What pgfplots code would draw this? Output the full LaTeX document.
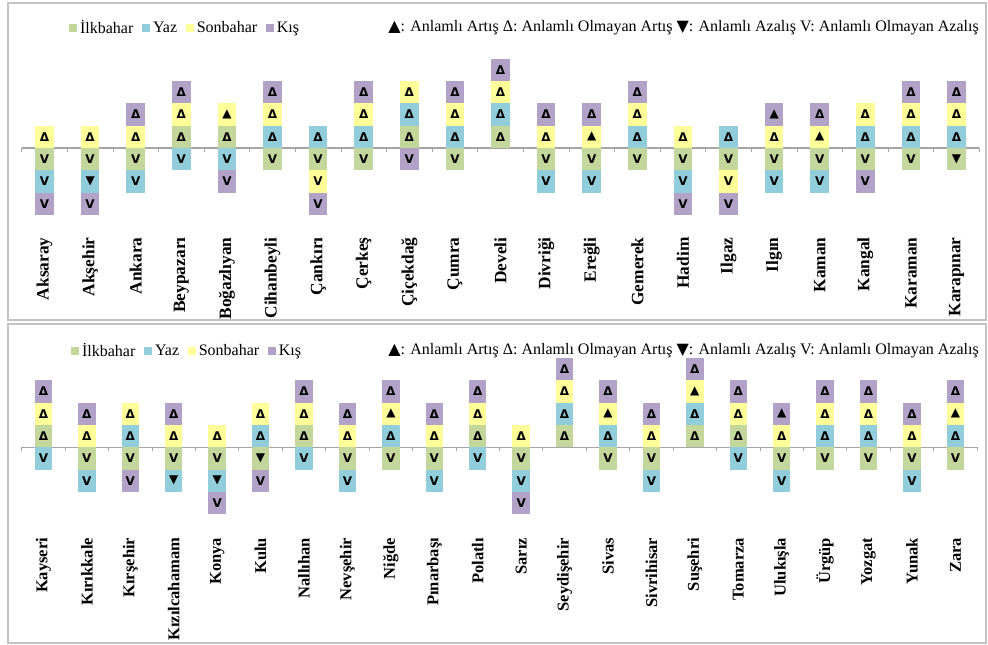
\documentclass[border=0pt]{standalone}
\usepackage{pgfplots}
\pgfplotsset{compat=1.18}
\usepackage{pgfplotstable}
\usepackage{fontspec}
\setmainfont{Liberation Serif}
\newfontfamily\symfont{DejaVu Sans}
\definecolor{ilk}{RGB}{195,214,155}
\definecolor{yaz}{RGB}{146,205,220}
\definecolor{son}{RGB}{255,255,153}
\definecolor{kis}{RGB}{179,162,199}
\definecolor{framegray}{RGB}{195,195,195}
\definecolor{axgray}{RGB}{165,165,165}
\pgfdeclareplotmark{cellA}{\pgfpathrectangle{\pgfpoint{-7pt}{-8.4pt}}{\pgfpoint{14pt}{16.8pt}}\pgfusepath{fill}}
\pgfdeclareplotmark{cellB}{\pgfpathrectangle{\pgfpoint{-6.5pt}{-8.4pt}}{\pgfpoint{13pt}{16.8pt}}\pgfusepath{fill}}

% x = station index; ?y = centre of the season's cell; ?s = symbol
\pgfplotstableread{
x iy is yy ys sy ss ky ks
0 -0.5 V -1.5 V 0.5 Δ -2.5 V
1 -0.5 V -1.5 ▼ 0.5 Δ -2.5 V
2 -0.5 V -1.5 V 0.5 Δ 1.5 Δ
3 0.5 Δ -0.5 V 1.5 Δ 2.5 Δ
4 0.5 Δ -0.5 V 1.5 ▲ -1.5 V
5 -0.5 V 0.5 Δ 1.5 Δ 2.5 Δ
6 -0.5 V 0.5 Δ -1.5 V -2.5 V
7 -0.5 V 0.5 Δ 1.5 Δ 2.5 Δ
8 0.5 Δ 1.5 Δ 2.5 Δ -0.5 V
9 -0.5 V 0.5 Δ 1.5 Δ 2.5 Δ
10 0.5 Δ 1.5 Δ 2.5 Δ 3.5 Δ
11 -0.5 V -1.5 V 0.5 Δ 1.5 Δ
12 -0.5 V -1.5 V 0.5 ▲ 1.5 Δ
13 -0.5 V 0.5 Δ 1.5 Δ 2.5 Δ
14 -0.5 V -1.5 V 0.5 Δ -2.5 V
15 -0.5 V 0.5 Δ -1.5 V -2.5 V
16 -0.5 V -1.5 V 0.5 Δ 1.5 ▲
17 -0.5 V -1.5 V 0.5 ▲ 1.5 Δ
18 -0.5 V 0.5 Δ 1.5 Δ -1.5 V
19 -0.5 V 0.5 Δ 1.5 Δ 2.5 Δ
20 -0.5 ▼ 0.5 Δ 1.5 Δ 2.5 Δ
}\topdata

\pgfplotstableread{
x iy is yy ys sy ss ky ks
0 0.5 Δ -0.5 V 1.5 Δ 2.5 Δ
1 -0.5 V -1.5 V 0.5 Δ 1.5 Δ
2 -0.5 V 0.5 Δ 1.5 Δ -1.5 V
3 -0.5 V -1.5 ▼ 0.5 Δ 1.5 Δ
4 -0.5 V -1.5 ▼ 0.5 Δ -2.5 V
5 -0.5 ▼ 0.5 Δ 1.5 Δ -1.5 V
6 0.5 Δ -0.5 V 1.5 Δ 2.5 Δ
7 -0.5 V -1.5 V 0.5 Δ 1.5 Δ
8 -0.5 V 0.5 Δ 1.5 ▲ 2.5 Δ
9 -0.5 V -1.5 V 0.5 Δ 1.5 Δ
10 0.5 Δ -0.5 V 1.5 Δ 2.5 Δ
11 -0.5 V -1.5 V 0.5 Δ -2.5 V
12 0.5 Δ 1.5 Δ 2.5 Δ 3.5 Δ
13 -0.5 V 0.5 Δ 1.5 ▲ 2.5 Δ
14 -0.5 V -1.5 V 0.5 Δ 1.5 Δ
15 0.5 Δ 1.5 Δ 2.5 ▲ 3.5 Δ
16 0.5 Δ -0.5 V 1.5 Δ 2.5 Δ
17 -0.5 V -1.5 V 0.5 Δ 1.5 ▲
18 -0.5 V 0.5 Δ 1.5 Δ 2.5 Δ
19 -0.5 V 0.5 Δ 1.5 Δ 2.5 Δ
20 -0.5 V -1.5 V 0.5 Δ 1.5 Δ
21 -0.5 V 0.5 Δ 1.5 ▲ 2.5 Δ
}\botdata

\pgfplotsset{
  panel/.style={
    anchor=south west,
    axis line style={draw=none},
    major tick length=0pt,
    ytick=\empty,
    xtick=data,
    clip=false,
    xticklabel style={rotate=90, anchor=east, inner sep=0pt},
    legend columns=4,
    legend style={draw=none, fill=none, inner sep=0pt, anchor=west,
      font=\fontsize{12}{14}\selectfont,
      nodes={inner sep=0.6pt},
      /tikz/every odd column/.append style={column sep=1.5pt},
      /tikz/every even column/.append style={column sep=6pt}},
    legend image code/.code={\fill[##1] (0pt,-3pt) rectangle (6pt,3pt);},
  },
  cell/.style={only marks, mark=#1, draw=none,
    point meta=explicit symbolic, nodes near coords,
    every node near coord/.append style={anchor=center, text=black, inner sep=0pt,
      font=\symfont\bfseries\fontsize{9}{9}\selectfont}},
}

\begin{document}
\begin{tikzpicture}
% panel frames
\draw[framegray, line width=1.3pt] (6pt,-2.25pt) rectangle (739.5pt,-240pt);
\draw[framegray, line width=1.3pt] (6pt,-243pt) rectangle (739.5pt,-482.25pt);

\begin{axis}[panel,
  at={(16.3pt,-177.9pt)},
  x=34.2pt, y=16.725pt,
  xmin=-0.5, xmax=20.5, ymin=-4, ymax=5,
  xticklabel style={font=\bfseries\fontsize{13}{15}\selectfont},
  xticklabels={Aksaray,Akşehir,Ankara,Beypazarı,Boğazlıyan,Cihanbeyli,Çankırı,Çerkeş,Çiçekdağ,Çumra,Develi,Divriği,Ereğli,Gemerek,Hadim,Ilgaz,Ilgın,Kaman,Kangal,Karaman,Karapınar},
  legend style={at={(0.0494,1.0425)}},
]
\addplot[cell=cellA, color=ilk] table[x=x, y=iy, meta=is] {\topdata};
\addplot[cell=cellA, color=yaz] table[x=x, y=yy, meta=ys] {\topdata};
\addplot[cell=cellA, color=son] table[x=x, y=sy, meta=ss] {\topdata};
\addplot[cell=cellA, color=kis] table[x=x, y=ky, meta=ks] {\topdata};
\addplot[forget plot, axgray, line width=0.9pt] coordinates {(-0.5,0) (20.5,0)};
\addplot[forget plot, ycomb, axgray, line width=0.6pt, no marks] coordinates {
(-0.5,-0.18) (0.5,-0.18) (1.5,-0.18) (2.5,-0.18) (3.5,-0.18) (4.5,-0.18) (5.5,-0.18)
(6.5,-0.18) (7.5,-0.18) (8.5,-0.18) (9.5,-0.18) (10.5,-0.18) (11.5,-0.18) (12.5,-0.18)
(13.5,-0.18) (14.5,-0.18) (15.5,-0.18) (16.5,-0.18) (17.5,-0.18) (18.5,-0.18) (19.5,-0.18) (20.5,-0.18)};
\legend{İlkbahar,Yaz,Sonbahar,Kış}
\end{axis}

\node[anchor=west, inner sep=0pt, font=\fontsize{12}{14}\selectfont] at (291pt,-21pt)
  {{\symfont ▲}: Anlamlı Artış Δ: Anlamlı Olmayan Artış {\symfont ▼}: Anlamlı Azalış V: Anlamlı Olmayan Azalış};

\begin{axis}[panel,
  at={(16.3pt,-403.2pt)},
  x=32.57pt, y=16.725pt,
  xmin=-0.5, xmax=21.5, ymin=-4.05, ymax=5,
  xticklabel style={font=\bfseries\fontsize{12.4}{14}\selectfont},
  xticklabels={Kayseri,Kırıkkale,Kırşehir,Kızılcahamam,Konya,Kulu,Nallıhan,Nevşehir,Niğde,Pınarbaşı,Polatlı,Sarız,Seydişehir,Sivas,Sivrihisar,Suşehri,Tomarza,Ulukışla,Ürgüp,Yozgat,Yunak,Zara},
  legend style={at={(0.0516,0.9235)}},
]
\addplot[cell=cellB, color=ilk] table[x=x, y=iy, meta=is] {\botdata};
\addplot[cell=cellB, color=yaz] table[x=x, y=yy, meta=ys] {\botdata};
\addplot[cell=cellB, color=son] table[x=x, y=sy, meta=ss] {\botdata};
\addplot[cell=cellB, color=kis] table[x=x, y=ky, meta=ks] {\botdata};
\addplot[forget plot, axgray, line width=0.9pt] coordinates {(-0.5,0) (21.5,0)};
\addplot[forget plot, ycomb, axgray, line width=0.6pt, no marks] coordinates {
(-0.5,-0.18) (0.5,-0.18) (1.5,-0.18) (2.5,-0.18) (3.5,-0.18) (4.5,-0.18) (5.5,-0.18)
(6.5,-0.18) (7.5,-0.18) (8.5,-0.18) (9.5,-0.18) (10.5,-0.18) (11.5,-0.18) (12.5,-0.18)
(13.5,-0.18) (14.5,-0.18) (15.5,-0.18) (16.5,-0.18) (17.5,-0.18) (18.5,-0.18) (19.5,-0.18) (20.5,-0.18) (21.5,-0.18)};
\legend{İlkbahar,Yaz,Sonbahar,Kış}
\end{axis}

\node[anchor=west, inner sep=0pt, font=\fontsize{12}{14}\selectfont] at (291pt,-263.25pt)
  {{\symfont ▲}: Anlamlı Artış Δ: Anlamlı Olmayan Artış {\symfont ▼}: Anlamlı Azalış V: Anlamlı Olmayan Azalış};

\pgfresetboundingbox
\path[use as bounding box] (0pt,0pt) rectangle (741pt,-483.75pt);
\end{tikzpicture}
\end{document}
